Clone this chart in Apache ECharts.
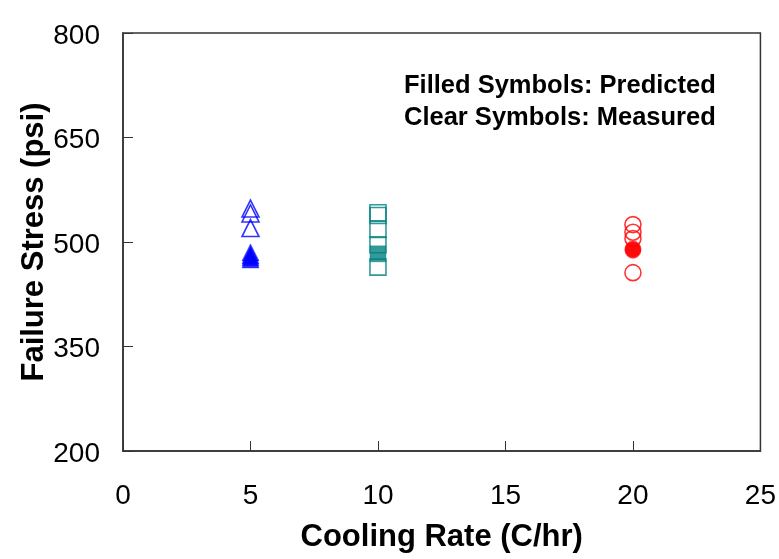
<!DOCTYPE html>
<html>
<head>
<meta charset="utf-8">
<script src="https://cdn.jsdelivr.net/npm/echarts@6/dist/echarts.min.js"></script>
<style>html,body{margin:0;padding:0;background:#fff;}#c{width:779px;height:559px;}</style>
</head>
<body>
<div id="c"></div>
<script>
const xTicks = [0, 5, 10, 15, 20, 25];
const yTicks = [200, 350, 500, 650, 800];
const rate5Measured = [548, 541, 520];
const rate5Predicted = [485, 481, 478, 475];
const rate10Measured = [542, 538, 518, 496, 464];
const rate10Predicted = [483];
const rate20Measured = [525, 514, 505, 456];
const rate20Predicted = [490, 488];

const pts = (x, arr) => arr.map(v => [x, v]);
const font = 'Liberation Sans, Arial, sans-serif';

const chart = echarts.init(document.getElementById('c'));
function openS(name, x, arr, symbol, color, size) {
  return { name, type: 'scatter', data: pts(x, arr), symbol, symbolSize: size, z: 2,
    itemStyle: { color: 'rgba(255,255,255,0)', borderColor: color, borderWidth: 1.6 } };
}
function fillS(name, x, arr, symbol, color, size) {
  return { name, type: 'scatter', data: pts(x, arr), symbol, symbolSize: size, z: 3,
    itemStyle: { color: color, borderColor: color, borderWidth: 0.5 } };
}
chart.setOption({
  animation: false,
  backgroundColor: '#fff',
  grid: { left: 123, right: 18, top: 33, bottom: 108, show: true, borderColor: '#333', borderWidth: 1.5, backgroundColor: 'transparent' },
  xAxis: {
    type: 'value', min: 0, max: 25, interval: 5,
    name: 'Cooling Rate (C/hr)', nameLocation: 'middle', nameGap: 71, nameMoveOverlap: false,
    nameTextStyle: { fontFamily: font, fontSize: 31, fontWeight: 'bold', color: '#000' },
    axisLine: { show: true, onZero: false, lineStyle: { color: '#333', width: 1.5 } },
    axisTick: { show: true, inside: true, length: 10, lineStyle: { color: '#333', width: 1 } },
    axisLabel: { margin: 31, fontFamily: font, fontSize: 28, color: '#000',
      formatter: v => xTicks.includes(v) ? String(v) : '' },
    splitLine: { show: false }
  },
  yAxis: {
    type: 'value', min: 200, max: 800, interval: 150,
    name: 'Failure Stress (psi)', nameLocation: 'middle', nameGap: 73, nameMoveOverlap: false,
    nameTextStyle: { fontFamily: font, fontSize: 31, fontWeight: 'bold', color: '#000' },
    axisLine: { show: true, onZero: false, lineStyle: { color: '#333', width: 1.5 } },
    axisTick: { show: true, inside: true, length: 10, lineStyle: { color: '#333', width: 1 } },
    axisLabel: { margin: 23, fontFamily: font, fontSize: 28, color: '#000', verticalAlign: 'top', lineHeight: 28, padding: [-11, 0, 0, 0],
      formatter: v => yTicks.includes(v) ? String(v) : '' },
    splitLine: { show: false }
  },
  graphic: [
    { type: 'text', left: 404, top: 73, style: { text: 'Filled Symbols: Predicted', font: 'bold 25.5px ' + font, fill: '#000' } },
    { type: 'text', left: 404, top: 105, style: { text: 'Clear Symbols: Measured', font: 'bold 25.5px ' + font, fill: '#000' } }
  ],
  series: [
    openS('5 measured', 5, rate5Measured, 'triangle', '#0000FF', 17),
    openS('10 measured', 10, rate10Measured, 'rect', '#008080', 16),
    openS('20 measured', 20, rate20Measured, 'circle', '#FF0000', 16),
    fillS('5 predicted', 5, rate5Predicted, 'triangle', '#0000FF', 17),
    fillS('10 predicted', 10, rate10Predicted, 'rect', '#008080', 16),
    fillS('20 predicted', 20, rate20Predicted, 'circle', '#FF0000', 16)
  ]
});
</script>
</body>
</html>
